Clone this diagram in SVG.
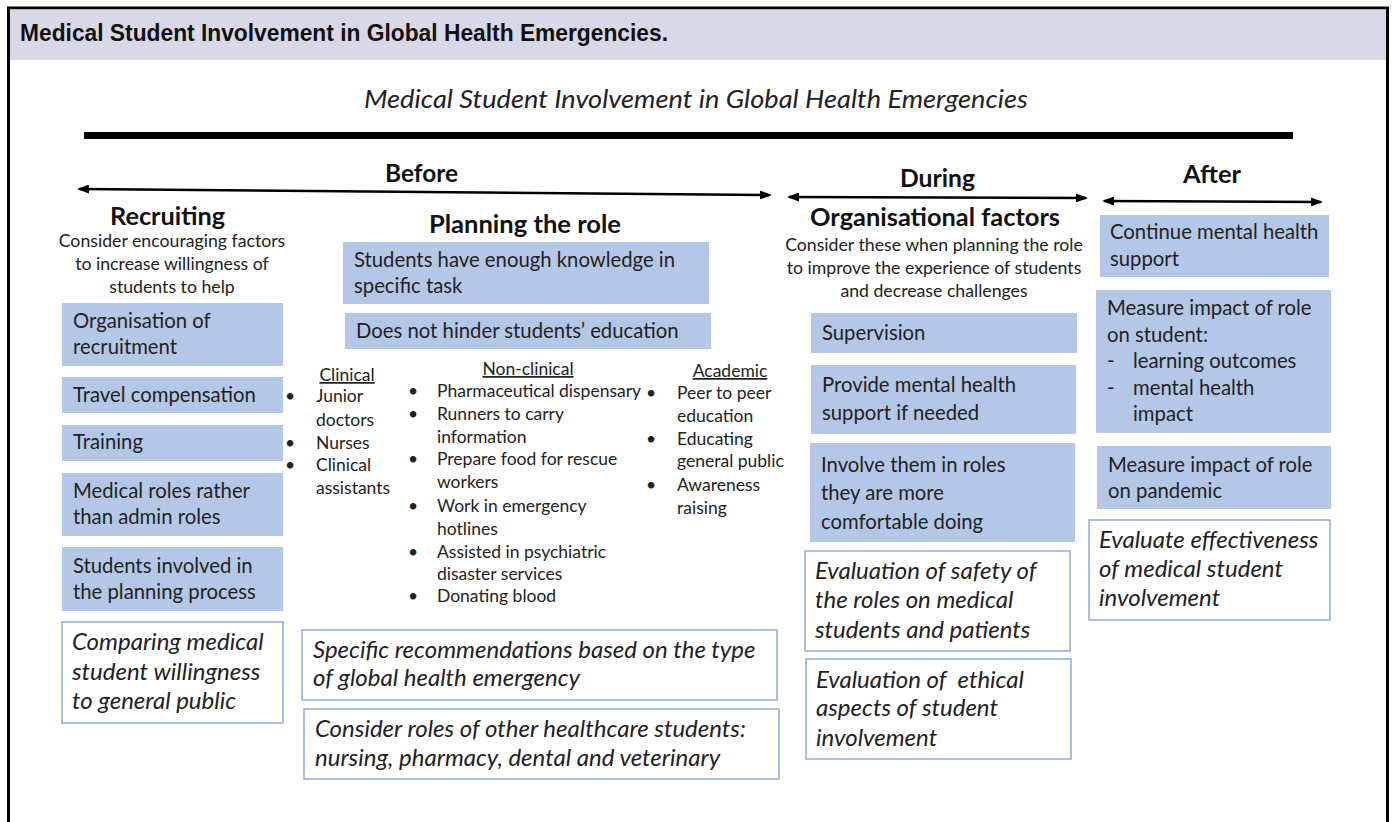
<svg xmlns="http://www.w3.org/2000/svg" width="1393" height="822" viewBox="0 0 1393 822">
<style>
.hdr{font-family:"Liberation Sans Narrow","Liberation Sans",Arial,sans-serif;font-weight:bold;font-size:24px;fill:#111}
.t{font-family:Lato,"Open Sans","Liberation Sans",sans-serif;fill:#222}
.b{font-weight:bold;font-size:25px;fill:#111}
.sub{font-size:17.7px}
.bx{font-size:20.3px}
.it{font-style:italic;font-size:24px}
.li{font-size:17.5px}
.u{text-decoration:underline}
.box{fill:#b4c7e7}
.obox{fill:#fff;stroke:#8faadc;stroke-width:1.5}
.arr{stroke:#000;stroke-width:2.5;fill:none}
</style>
<defs>
<marker id="ah" viewBox="0 0 12 9" refX="10" refY="4.5" markerWidth="12" markerHeight="9" markerUnits="userSpaceOnUse" orient="auto-start-reverse">
<path d="M0,0 L12,4.5 L0,9 z" fill="#000"/>
</marker>
</defs>
<rect x="0" y="0" width="1393" height="822" fill="#fff"/>
<g id="frame">
<rect x="8.5" y="8" width="1379" height="830" fill="#fff" stroke="#000" stroke-width="3"/>
<rect x="10" y="9.5" width="1376" height="50.5" fill="#d9d8e6"/>
<text class="hdr" x="20" y="41" textLength="648" lengthAdjust="spacingAndGlyphs">Medical Student Involvement in Global Health Emergencies.</text>
</g>
<g id="title">
<text class="t" x="364" y="108" textLength="664" lengthAdjust="spacingAndGlyphs" style="font-style:italic;font-size:24.5px">Medical Student Involvement in Global Health Emergencies</text>
<rect x="84" y="132" width="1209" height="7" fill="#000"/>
</g>
<g id="connectors">
<line class="arr" x1="79" y1="189" x2="770" y2="195" marker-start="url(#ah)" marker-end="url(#ah)"/>
<line class="arr" x1="789" y1="197" x2="1086" y2="198" marker-start="url(#ah)" marker-end="url(#ah)"/>
<line class="arr" x1="1104" y1="201" x2="1321" y2="202" marker-start="url(#ah)" marker-end="url(#ah)"/>
</g>
<g id="phase-labels">
<text class="t b" x="385" y="182" textLength="73" lengthAdjust="spacingAndGlyphs">Before</text>
<text class="t b" x="900" y="187" textLength="75" lengthAdjust="spacingAndGlyphs">During</text>
<text class="t b" x="1183" y="183" textLength="58" lengthAdjust="spacingAndGlyphs">After</text>
</g>
<g id="recruiting">
<text class="t b" x="110" y="225" textLength="115" lengthAdjust="spacingAndGlyphs">Recruiting</text>
<text class="t sub" text-anchor="middle"><tspan x="172" y="247">Consider encouraging factors</tspan><tspan x="172" y="270">to increase willingness of</tspan><tspan x="172" y="293">students to help</tspan></text>
</g>
<g id="r-organisation"><rect class="box" x="62" y="303" width="221" height="63"/><text class="t bx"><tspan x="73" y="328">Organisation of</tspan><tspan x="73" y="354">recruitment</tspan></text></g>
<g id="r-travel"><rect class="box" x="62" y="377" width="221" height="36"/><text class="t bx" x="73" y="402">Travel compensation</text></g>
<g id="r-training"><rect class="box" x="62" y="425" width="221" height="36"/><text class="t bx" x="73" y="449">Training</text></g>
<g id="r-medical"><rect class="box" x="62" y="473" width="221" height="63"/><text class="t bx"><tspan x="73" y="498">Medical roles rather</tspan><tspan x="73" y="524">than admin roles</tspan></text></g>
<g id="r-students"><rect class="box" x="62" y="547" width="221" height="64"/><text class="t bx"><tspan x="73" y="573">Students involved in</tspan><tspan x="73" y="599">the planning process</tspan></text></g>
<g id="r-comparing"><rect class="obox" x="62" y="622" width="221" height="101"/><text class="t it"><tspan x="72" y="650">Comparing medical</tspan><tspan x="72" y="680">student willingness</tspan><tspan x="72" y="709">to general public</tspan></text></g>
<g id="planning">
<text class="t b" x="429" y="233" textLength="192" lengthAdjust="spacingAndGlyphs">Planning the role</text>
</g>
<g id="p-knowledge"><rect class="box" x="343" y="242" width="366" height="62"/><text class="t bx"><tspan x="354" y="267">Students have enough knowledge in</tspan><tspan x="354" y="293">specific task</tspan></text></g>
<g id="p-hinder"><rect class="box" x="345" y="313" width="366" height="36"/><text class="t bx" x="356" y="338">Does not hinder students’ education</text></g>
<g id="p-clinical">
<text class="t li u" x="347" y="381" text-anchor="middle">Clinical</text>
<text class="t li"><tspan x="285" y="402">•</tspan><tspan x="285" y="449">•</tspan><tspan x="285" y="471">•</tspan></text>
<text class="t li"><tspan x="316" y="402">Junior</tspan><tspan x="316" y="426">doctors</tspan><tspan x="316" y="449">Nurses</tspan><tspan x="316" y="471">Clinical</tspan><tspan x="316" y="494">assistants</tspan></text>
</g>
<g id="p-nonclinical">
<text class="t li u" x="528" y="375" text-anchor="middle">Non-clinical</text>
<text class="t li"><tspan x="408" y="397">•</tspan><tspan x="408" y="420">•</tspan><tspan x="408" y="465">•</tspan><tspan x="408" y="512">•</tspan><tspan x="408" y="558">•</tspan><tspan x="408" y="602">•</tspan></text>
<text class="t li"><tspan x="437" y="397">Pharmaceutical dispensary</tspan><tspan x="437" y="420">Runners to carry</tspan><tspan x="437" y="443">information</tspan><tspan x="437" y="465">Prepare food for rescue</tspan><tspan x="437" y="488">workers</tspan><tspan x="437" y="512">Work in emergency</tspan><tspan x="437" y="535">hotlines</tspan><tspan x="437" y="558">Assisted in psychiatric</tspan><tspan x="437" y="580">disaster services</tspan><tspan x="437" y="602">Donating blood</tspan></text>
</g>
<g id="p-academic">
<text class="t li u" x="730" y="377" text-anchor="middle">Academic</text>
<text class="t li"><tspan x="646" y="399">•</tspan><tspan x="646" y="445">•</tspan><tspan x="646" y="491">•</tspan></text>
<text class="t li"><tspan x="677" y="399">Peer to peer</tspan><tspan x="677" y="422">education</tspan><tspan x="677" y="445">Educating</tspan><tspan x="677" y="467">general public</tspan><tspan x="677" y="491">Awareness</tspan><tspan x="677" y="514">raising</tspan></text>
</g>
<g id="p-specific"><rect class="obox" x="302" y="630" width="475" height="70"/><text class="t it"><tspan x="313" y="658">Specific recommendations based on the type</tspan><tspan x="313" y="686">of global health emergency</tspan></text></g>
<g id="p-other"><rect class="obox" x="304" y="709" width="475" height="70"/><text class="t it"><tspan x="315" y="737">Consider roles of other healthcare students:</tspan><tspan x="315" y="766">nursing, pharmacy, dental and veterinary</tspan></text></g>
<g id="organisational">
<text class="t b" x="810" y="226" textLength="250" lengthAdjust="spacingAndGlyphs">Organisational factors</text>
<text class="t sub" text-anchor="middle"><tspan x="934" y="251">Consider these when planning the role</tspan><tspan x="934" y="274">to improve the experience of students</tspan><tspan x="934" y="297">and decrease challenges</tspan></text>
</g>
<g id="d-supervision"><rect class="box" x="811" y="313" width="266" height="40"/><text class="t bx" x="822" y="340">Supervision</text></g>
<g id="d-mental"><rect class="box" x="811" y="365" width="265" height="69"/><text class="t bx"><tspan x="822" y="392">Provide mental health</tspan><tspan x="822" y="420">support if needed</tspan></text></g>
<g id="d-involve"><rect class="box" x="810" y="443" width="265" height="99"/><text class="t bx"><tspan x="821" y="472">Involve them in roles</tspan><tspan x="821" y="500">they are more</tspan><tspan x="821" y="529">comfortable doing</tspan></text></g>
<g id="d-safety"><rect class="obox" x="805" y="551" width="265" height="100"/><text class="t it"><tspan x="815" y="579">Evaluation of safety of</tspan><tspan x="815" y="608">the roles on medical</tspan><tspan x="815" y="638">students and patients</tspan></text></g>
<g id="d-ethical"><rect class="obox" x="806" y="659" width="265" height="100"/><text class="t it"><tspan x="816" y="688" xml:space="preserve">Evaluation of  ethical</tspan><tspan x="816" y="716">aspects of student</tspan><tspan x="816" y="746">involvement</tspan></text></g>
<g id="a-continue"><rect class="box" x="1100" y="215" width="229" height="62"/><text class="t bx"><tspan x="1110" y="239">Continue mental health</tspan><tspan x="1110" y="266">support</tspan></text></g>
<g id="a-student"><rect class="box" x="1096" y="290" width="235" height="143"/><text class="t bx"><tspan x="1107" y="315">Measure impact of role</tspan><tspan x="1107" y="342">on student:</tspan><tspan x="1107" y="368">-</tspan><tspan x="1133" y="368">learning outcomes</tspan><tspan x="1107" y="395">-</tspan><tspan x="1133" y="395">mental health</tspan><tspan x="1133" y="421">impact</tspan></text></g>
<g id="a-pandemic"><rect class="box" x="1097" y="446" width="234" height="63"/><text class="t bx"><tspan x="1108" y="472">Measure impact of role</tspan><tspan x="1108" y="498">on pandemic</tspan></text></g>
<g id="a-evaluate"><rect class="obox" x="1089" y="520" width="241" height="100"/><text class="t it"><tspan x="1099" y="548">Evaluate effectiveness</tspan><tspan x="1099" y="577">of medical student</tspan><tspan x="1099" y="606">involvement</tspan></text></g>
</svg>
